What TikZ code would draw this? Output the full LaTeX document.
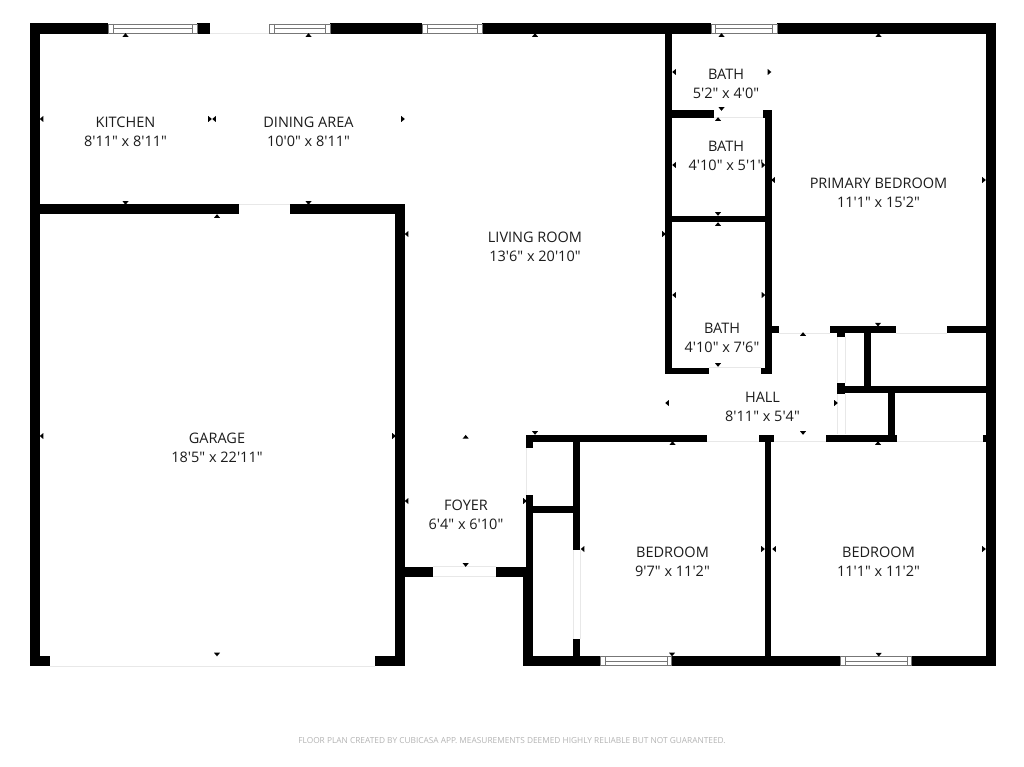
\documentclass[tikz,border=0pt]{standalone}
\usepackage{fontspec}
\newfontfamily\lblfont{Open Sans}
\definecolor{inkc}{HTML}{1C1C1C}
\definecolor{faintc}{HTML}{E8E8E8}
\definecolor{wingray}{HTML}{777777}
\definecolor{footc}{HTML}{B4B4B4}
\tikzset{
  wallfill/.style={fill=black,draw=none},
  faintline/.style={draw=faintc,line width=0.9pt},
  winbox/.style={draw=wingray,line width=0.9pt,fill=white},
  winline/.style={draw=wingray,line width=0.9pt},
  roomlabel/.style={align=center,inner sep=0pt,text=inkc,font=\lblfont\fontsize{14.5}{19}\selectfont},
  footlabel/.style={inner sep=0pt,text=footc,font=\lblfont\fontsize{8.32}{10}\selectfont},
}
\begin{document}
\begin{tikzpicture}[x=1pt,y=-1pt]
\useasboundingbox[fill=white] (0,0) rectangle (1024,767);
% faint lines at openings
\foreach \a/\b/\c/\d in {
  210/33.5/269/33.5, 239/204.5/290/204.5, 50/666/375/666,
  714/117.5/763/117.5, 709/367.5/761/367.5, 779/333/830/333, 896/333/947/333,
  707/441.5/759/441.5, 774/441.5/826/441.5, 897/441.5/983/441.5,
  837.5/337/837.5/383, 845/337/845/383, 837.5/394/837.5/434, 845/394/845/434,
  526.5/448/526.5/495, 573.5/550/573.5/639, 580/550/580/639,
  433/566.7/496/566.7, 433/576.5/496/576.5}
  \draw[faintline] (\a,\b) -- (\c,\d);
% walls: x1/y1/x2/y2
\foreach \a/\b/\c/\d in {
  29.5/23.5/108/34, 197/23.5/210/34, 330/23.5/422/34, 482/23.5/711/34, 777/23.5/996/34,
  29.5/23.5/39.5/666, 985.7/23.5/996/666,
  39.5/204.3/239/214.3, 290.3/204.3/405/214.3, 395/204.3/405/666,
  29.5/656/49.7/666, 375.3/656/405/666,
  405/566.7/433/576.7, 495.7/566.7/533/576.7,
  665/34/672/374.3, 672/110/714/117.7, 763/110/771.5/117.7,
  764.7/110/771.5/374.3, 672/215.7/765/222.3,
  665/367.7/709/374.3, 760.5/367.7/771.5/374.3,
  771/326/779/333, 830/326/895.7/333, 946.7/326/986/333,
  837.3/333/844.8/337, 863.7/333/871/387,
  837.3/382.7/845/394, 842.7/386.3/986/393.3, 887.7/393/894.7/435,
  825.7/434.7/897/441.7, 982.7/434.7/986/441.7,
  526.3/434.7/706.7/441.7, 758.7/434.7/774.3/441.7, 764.7/441/771.3/660,
  526.3/434.7/533.3/447.7, 526.3/494.7/533.3/567, 523/566.7/533.3/666,
  533/506/574/513, 573.3/441/580.3/550, 573.3/638.7/580.3/660,
  523/656.3/600/666, 671.7/656.3/840/666, 911.7/656.3/996/666}
  \fill[wallfill] (\a,\b) rectangle (\c,\d);
% windows: x1/x2/y1/y2
\foreach \a/\b/\c/\d in {
  108.5/197/24/33.5, 269.5/330/24/33.5, 422.5/482/24/33.5, 711/777/24/33.5,
  600.5/671.5/656.5/665.5, 840.5/911.5/656.5/665.5}{
  \draw[winbox] (\a,\c) rectangle (\b,\d);
  \draw[winline] (\a+4.5,\c) -- (\a+4.5,\d);
  \draw[winline] (\b-4.5,\c) -- (\b-4.5,\d);
  \draw[winline] (\a+4.5,{(\c+\d)/2}) -- (\b-4.5,{(\c+\d)/2});
}
% dimension ticks
\foreach \x/\y in {125.5/35, 308.5/35, 535/35, 721.5/35, 878.5/35, 217/216, 718/119, 718/224,
  465.7/436.7, 803/334, 672.5/443, 878/443}
  \fill (\x-3,\y+1.8) -- (\x+3,\y+1.8) -- (\x,\y-1.8) -- cycle;
\foreach \x/\y in {125.5/203, 308.5/203, 217/654.5, 535/433, 465.7/565, 721.5/109, 718/214, 718/365,
  878/324.7, 803/433, 672/654.5, 878.7/654.7}
  \fill (\x-3,\y-1.8) -- (\x+3,\y-1.8) -- (\x,\y+1.8) -- cycle;
\foreach \x/\y in {41.5/119, 214/119, 406.5/234, 406.5/501, 41.5/436, 674/72, 674/165, 674/295, 773/180,
  667/403, 582.5/549, 774/549}
  \fill (\x+1.8,\y-3) -- (\x+1.8,\y+3) -- (\x-1.8,\y) -- cycle;
\foreach \x/\y in {210/119, 403/119, 664/234, 525/501, 394/436, 769.5/72, 763.5/165, 763.5/295, 984/180,
  836/403, 763/549, 984/549}
  \fill (\x-1.8,\y-3) -- (\x-1.8,\y+3) -- (\x+1.8,\y) -- cycle;
% labels
\node[roomlabel] (kitchen) at (125.5,132) {KITCHEN\\8'11" x 8'11"};
\node[roomlabel] (dining) at (308.5,132) {DINING AREA\\10'0" x 8'11"};
\node[roomlabel] (bathA) at (726,84) {BATH\\5'2" x 4'0"};
\node[roomlabel] (bathB) at (726,156) {BATH\\4'10" x 5'1"};
\node[roomlabel] (bathC) at (722,337.5) {BATH\\4'10" x 7'6"};
\node[roomlabel] (primary) at (878.5,193) {PRIMARY BEDROOM\\11'1" x 15'2"};
\node[roomlabel] (living) at (535,247) {LIVING ROOM\\13'6" x 20'10"};
\node[roomlabel] (hall) at (762.5,407) {HALL\\8'11" x 5'4"};
\node[roomlabel] (foyer) at (466,514.5) {FOYER\\6'4" x 6'10"};
\node[roomlabel] (bedA) at (672.5,562) {BEDROOM\\9'7" x 11'2"};
\node[roomlabel] (bedB) at (878.5,562) {BEDROOM\\11'1" x 11'2"};
\node[roomlabel] (garage) at (217,448) {GARAGE\\18'5" x 22'11"};
\node[footlabel] (foot) at (512,741) {FLOOR PLAN CREATED BY CUBICASA APP. MEASUREMENTS DEEMED HIGHLY RELIABLE BUT NOT GUARANTEED.};
\end{tikzpicture}
\end{document}
